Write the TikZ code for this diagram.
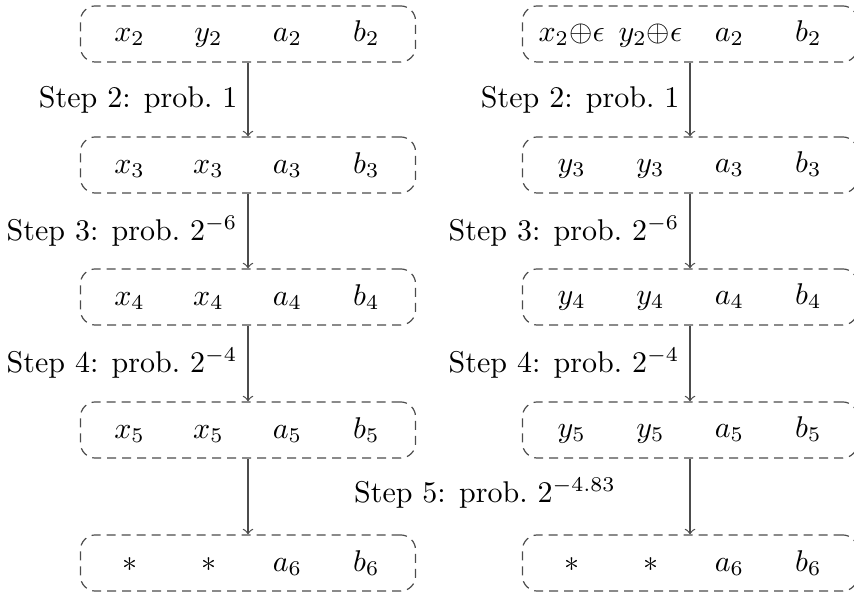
\documentclass[tikz,border=0pt]{standalone}
\usepackage{amsmath,amssymb}
\usepackage{tikz}

\newcommand{\cell}[1]{\makebox[26.3pt]{$#1$}}
\tikzset{
  state/.style={draw=black!70, densely dashed, rounded corners=5pt,
    minimum width=111.7pt, minimum height=18.7pt, inner sep=0pt},
  trans/.style={->, black!70},
}

\begin{document}
\begin{tikzpicture}[x=1.1715cm,y=1.1715cm]
      \useasboundingbox (0,0) rectangle (8.54,5.93);
      % first and last rows
      \node[state] (l2) at (2.48,5.59) {\cell{x_2}\cell{y_2}\cell{a_2}\cell{b_2}};
      \node[state] (r2) at (6.90,5.59) {\cell{x_2{\oplus}\epsilon}\cell{y_2{\oplus}\epsilon}\cell{a_2}\cell{b_2}};
      \node[state] (l6) at (2.48,0.30) {\cell{*}\cell{*}\cell{a_6}\cell{b_6}};
      \node[state] (r6) at (6.90,0.30) {\cell{*}\cell{*}\cell{a_6}\cell{b_6}};
      % middle rows
      \foreach \i/\y in {3/4.28, 4/2.96, 5/1.63} {
        \node[state] (l\i) at (2.48,\y) {\cell{x_\i}\cell{x_\i}\cell{a_\i}\cell{b_\i}};
        \node[state] (r\i) at (6.90,\y) {\cell{y_\i}\cell{y_\i}\cell{a_\i}\cell{b_\i}};
      }
      \draw[trans] (l2) -- node[left, black] {Step 2: prob.\ $1$} (l3);
      \draw[trans] (r2) -- node[left, black] {Step 2: prob.\ $1$} (r3);
      \draw[trans] (l3) -- node[left, black] {Step 3: prob.\ $2^{-6}$} (l4);
      \draw[trans] (r3) -- node[left, black] {Step 3: prob.\ $2^{-6}$} (r4);
      \draw[trans] (l4) -- node[left, black] {Step 4: prob.\ $2^{-4}$} (l5);
      \draw[trans] (r4) -- node[left, black] {Step 4: prob.\ $2^{-4}$} (r5);
      \draw[trans] (l5) -- (l6);
      \draw[trans] (r5) -- (r6);
      \node (s5) at (4.85,1.0) {Step 5: prob.\ $2^{-4.83}$};
    \end{tikzpicture}
\end{document}
